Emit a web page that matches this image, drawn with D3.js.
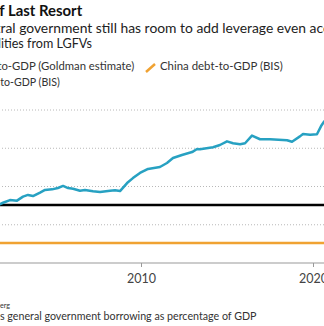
<!DOCTYPE html>
<html>
<head>
<meta charset="utf-8">
<script src="https://cdn.jsdelivr.net/npm/d3@7"></script>
<style>
  html, body { margin: 0; padding: 0; background: #fff; overflow: hidden; }
  svg { display: block; font-family: Lato, "Open Sans", sans-serif; }
</style>
</head>
<body>
<div id="chart"></div>
<script>
// Goldman estimate series (decimal years, % of GDP)
const goldmanYears = [2001.57, 2001.98, 2002.38, 2002.79, 2003.14, 2003.43, 2003.72, 2004.13, 2004.42, 2004.83,
  2005.17, 2005.47, 2005.76, 2006.05, 2006.45, 2006.74, 2007.21, 2007.62, 2008.20, 2008.49,
  2008.78, 2009.19, 2009.53, 2009.94, 2010.41, 2011.10, 2011.51, 2011.86, 2012.38, 2012.97,
  2013.26, 2013.43, 2014.19, 2014.59, 2015.00, 2015.35, 2015.76, 2016.05, 2016.45, 2016.92,
  2017.50, 2018.49, 2018.78, 2019.24, 2019.42, 2019.83, 2020.23, 2020.47, 2020.64, 2020.87];
const goldmanValues = [29.8, 31.5, 32.9, 32.6, 34.7, 35.6, 35.0, 36.8, 38.2, 38.5,
  39.2, 40.3, 39.2, 38.8, 37.8, 38.2, 37.5, 37.1, 37.8, 38.0,
  37.6, 41.8, 44.4, 47.1, 49.2, 50.2, 52.3, 54.9, 56.5, 58.0,
  59.6, 59.5, 60.5, 61.7, 63.6, 62.6, 62.1, 62.6, 66.6, 64.7,
  64.7, 64.2, 63.4, 66.2, 67.5, 67.1, 67.3, 71.6, 73.9, 75.8];

// flat BIS lines as drawn
const bisYears = [2001.0, 2021.0];
const chinaBis = [10.5, 10.5];
const otherBis = [30.3, 30.3];

const xTicks = [2000, 2010, 2020];
const yTicks = [20, 40, 60, 80];

const titleText = "Lender of Last Resort";
const subtitleLines = [
  "China's central government still has room to add leverage even accounting for",
  "liabilities from LGFVs"
];
const legendItems = [
  { label: "China central govt debt-to-GDP (Goldman estimate)", color: "#27a1c2" },
  { label: "China debt-to-GDP (BIS)", color: "#f0a232" },
  { label: "Japan govt debt-to-GDP (BIS)", color: "#000" }
];
const footLines = [
  "Source: Bloomberg",
  "Note: Goldman estimate includes general government borrowing as percentage of GDP"
];

const W = 324, H = 326;
const svg = d3.select("#chart").append("svg").attr("width", W).attr("height", H);

const x = d3.scaleLinear().domain([2010, 2020]).range([141, 313]);
const y = d3.scaleLinear().domain([0, 80]).range([263, 110]);

// measure a visible piece, size the font so it fits, then shift the full string
function cutText(full, visible, xStart, baseY, targetW, weight, color) {
  const t = svg.append("text").attr("font-size", 12).attr("font-weight", weight)
    .attr("fill", color).text(visible);
  const size = 12 * targetW / t.node().getComputedTextLength();
  t.attr("font-size", size);
  const idx = full.indexOf(visible.slice(0, 6));
  const prefix = full.slice(0, idx);
  let pw = 0;
  if (prefix) { t.text(prefix); pw = t.node().getComputedTextLength(); }
  t.text(full).attr("x", xStart - pw).attr("y", baseY);
  return t;
}

// grid
svg.append("g").selectAll("line").data(yTicks).join("line")
  .attr("x1", -10).attr("x2", W + 10)
  .attr("y1", d => y(d)).attr("y2", d => y(d))
  .attr("stroke", "#b8b8b8").attr("stroke-width", 1).attr("stroke-dasharray", "1,2");

// x axis
const xAxis = svg.append("g").attr("transform", `translate(0,${y(0)})`)
  .call(d3.axisBottom(x).tickValues(xTicks).tickFormat(d3.format("d")).tickSize(4).tickSizeOuter(0));
xAxis.select(".domain").attr("d", `M-10,0H${W + 10}`).attr("stroke", "#999");
xAxis.selectAll(".tick line").attr("stroke", "#999");
xAxis.selectAll(".tick text").attr("fill", "#444").attr("font-family", "Lato, sans-serif")
  .attr("font-size", 12.5).attr("dy", 0).attr("y", 20);

const line = d3.line().x(d => x(d[0])).y(d => y(d[1]));

svg.append("path").datum(d3.zip(bisYears, chinaBis))
  .attr("fill", "none").attr("stroke", legendItems[1].color).attr("stroke-width", 2.5).attr("d", line);
svg.append("path").datum(d3.zip(bisYears, otherBis))
  .attr("fill", "none").attr("stroke", legendItems[2].color).attr("stroke-width", 2.5).attr("d", line);
svg.append("path").datum(d3.zip(goldmanYears, goldmanValues))
  .attr("fill", "none").attr("stroke", legendItems[0].color).attr("stroke-width", 2.5)
  .attr("stroke-linejoin", "round").attr("d", line);

// title & subtitle
cutText(titleText, "f Last Resort", -0.5, 15.5, 83, 700, "#111");
cutText(subtitleLines[0], "ral government still has room to add leverage even a", 0.5, 33, 316, 400, "#222");
cutText(subtitleLines[1], "lities from LGFVs", -2, 48, 94, 400, "#222");

// legend
cutText(legendItems[0].label, "o-GDP (Goldman estimate)", 1.5, 70, 133, 400, "#333");
svg.append("line").attr("x1", 146).attr("y1", 72).attr("x2", 155).attr("y2", 64)
  .attr("stroke", legendItems[1].color).attr("stroke-width", 2.5);
cutText(legendItems[1].label, legendItems[1].label, 160, 70, 123, 400, "#333");
cutText(legendItems[2].label, "o-GDP (BIS)", 4, 86, 56, 400, "#333");

// footnotes
cutText(footLines[0], "erg", 0, 308, 10, 400, "#333");
cutText(footLines[1], "s general government borrowing as percentage of GDP", 0, 319.5, 257, 400, "#333");
</script>
</body>
</html>
